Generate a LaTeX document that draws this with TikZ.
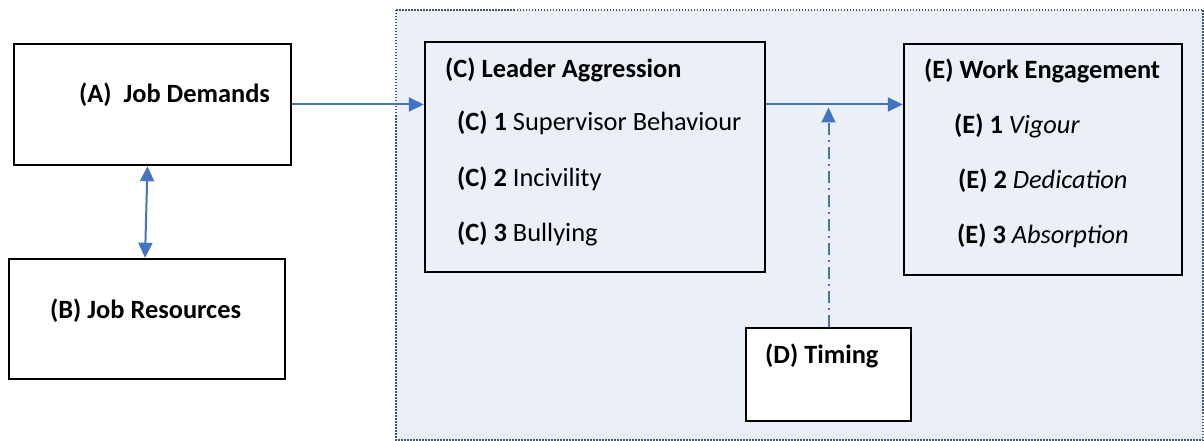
\documentclass[tikz,border=0pt]{standalone}
\usepackage{fontspec}
\setmainfont{Carlito}
\usetikzlibrary{arrows.meta}
\definecolor{flowblue}{HTML}{4472C4}
\definecolor{panelfill}{HTML}{EBEFF8}
\definecolor{paneledge}{HTML}{44546A}

\begin{document}
\begin{tikzpicture}[x=1pt, y=-1pt,
    box/.style={draw=black, line width=2.5pt, inner sep=0pt},
    txt/.style={anchor=base west, inner sep=0pt, font=\fontsize{26.4}{30}\selectfont},
    flow/.style={draw=flowblue, line width=2pt, -{Triangle[length=15pt, width=14pt]}}]
  \useasboundingbox (0,0) rectangle (1204,441);
  % shaded panel
  \draw[fill=panelfill, draw=paneledge, line width=1.5pt, dash pattern=on 1.5pt off 1.5pt] (396,10) rectangle (1203,440);
  % boxes
  \node[box, fill=white, minimum width=277, minimum height=121] (A) at (152.5,104.5) {};
  \node[box, fill=white, minimum width=276, minimum height=120] (B) at (147,319) {};
  \node[box, minimum width=340, minimum height=230] (C) at (595,157) {};
  \node[box, minimum width=278, minimum height=231] (E) at (1043,159.5) {};
  \node[box, fill=white, minimum width=165, minimum height=93] (D) at (828.5,374.5) {};
  % texts
  \node[txt] (tA) at (79,103) {\bfseries (A)\ \ Job Demands};
  \node[txt] (tB) at (50,318) {\bfseries (B) Job Resources};
  \node[txt] (tC) at (445,78) {\bfseries (C) Leader Aggression};
  \node[txt] (tC1) at (457,131) {\textbf{(C) 1} Supervisor Behaviour};
  \node[txt] (tC2) at (457,186) {\textbf{(C) 2} Incivility};
  \node[txt] (tC3) at (457,241) {\textbf{(C) 3} Bullying};
  \node[txt] (tD) at (765,363) {\bfseries (D) Timing};
  \node[txt] (tE) at (924,79) {\bfseries (E) Work Engagement};
  \node[txt] (tE1) at (954,133) {\textbf{(E) 1} \textit{Vigour}};
  \node[txt] (tE2) at (958,188) {\textbf{(E) 2} \textit{Dedication}};
  \node[txt] (tE3) at (957,243) {\textbf{(E) 3} \textit{Absorption}};
  % connectors
  \coordinate (mid) at (D.north |- A.east);
  \draw[flow] (A.east) -- (A.east -| C.west);
  \draw[flow] (A.east -| C.east) -- (A.east -| E.west);
  \draw[flow, {Triangle[length=15pt, width=14pt]}-{Triangle[length=15pt, width=14pt]}] ([xshift=-5]A.south) -- ([xshift=-2]B.north);
  \draw[flow, dash pattern=on 12pt off 5pt on 2pt off 5pt, shorten >=3pt] (D.north) -- (mid);
\end{tikzpicture}
\end{document}
